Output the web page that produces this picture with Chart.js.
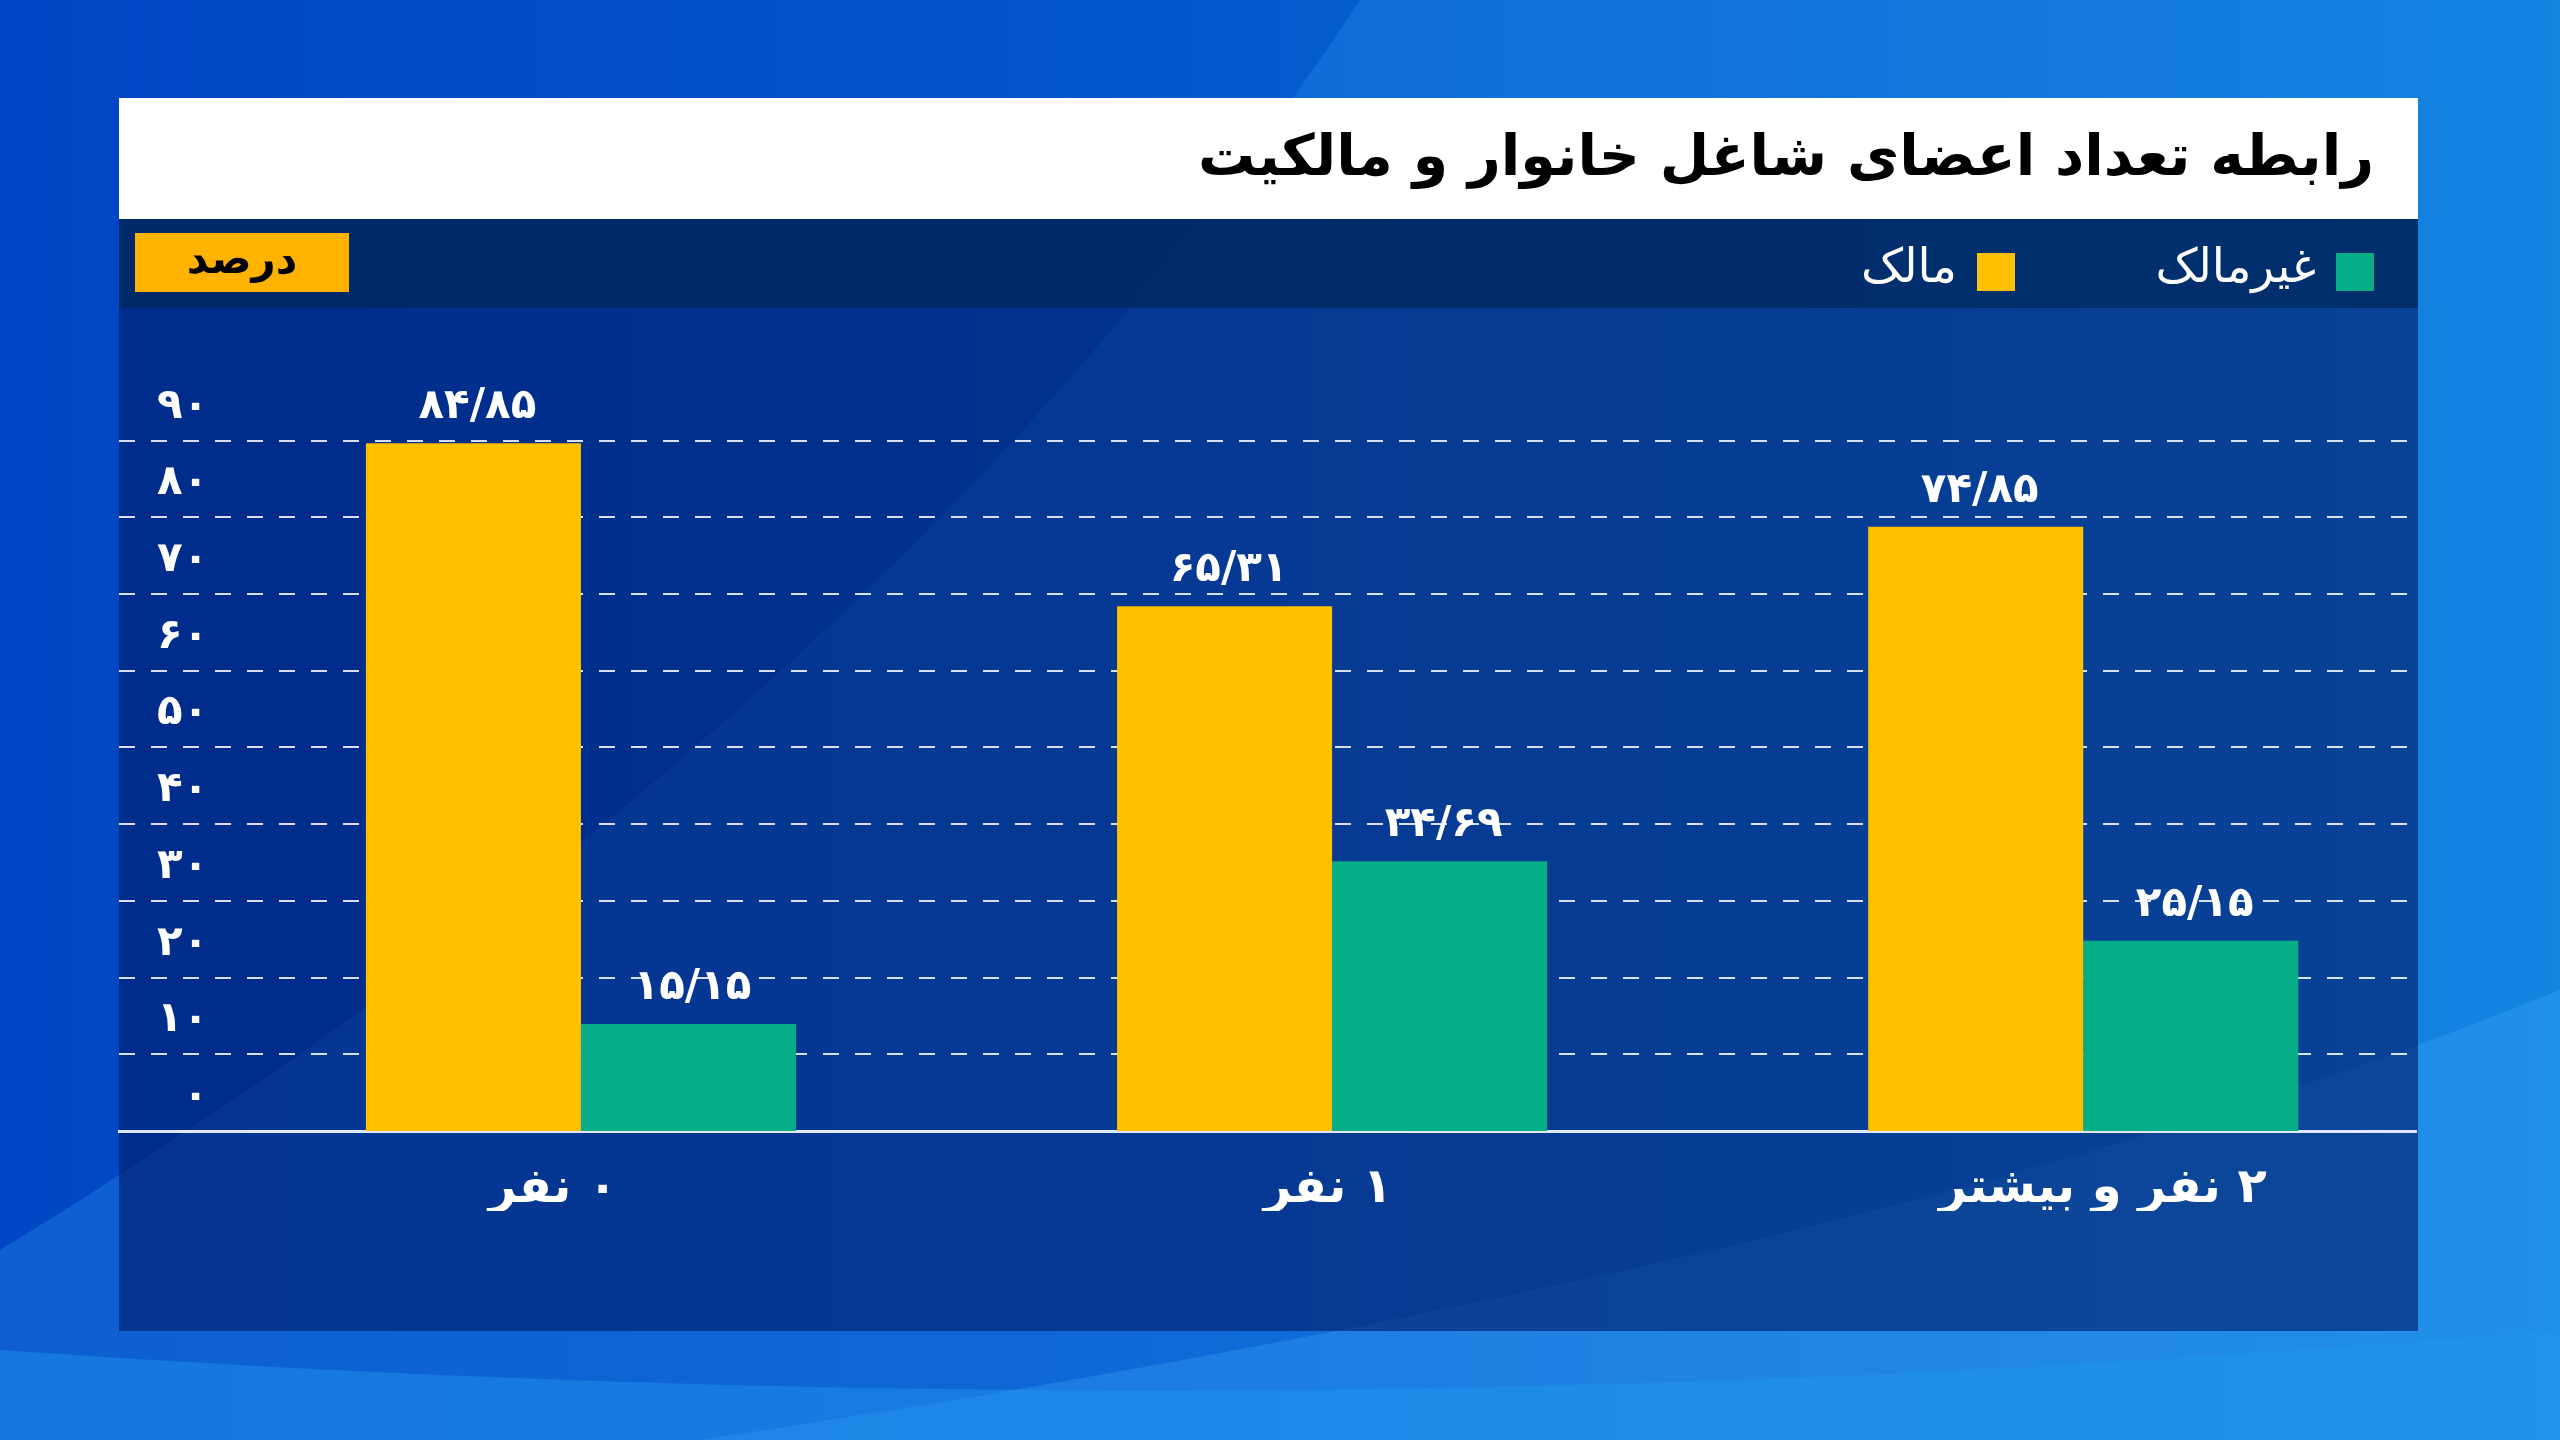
<!DOCTYPE html>
<html lang="fa">
<head>
<meta charset="utf-8">
<script src="https://cdn.jsdelivr.net/npm/chart.js@4.4.1/dist/chart.umd.min.js"></script>
<style>
  html, body { margin: 0; padding: 0; background: #0050c8; }
  #wrap { width: 2560px; height: 1440px; position: relative; }
</style>
</head>
<body>
<div id="wrap"><canvas id="chart" dir="rtl"></canvas></div>
<script>
// ── Data ──────────────────────────────────────────────
const categories     = ['۰ نفر', '۱ نفر', '۲ نفر و بیشتر'];
const seriesNames    = ['مالک', 'غیرمالک'];
const ownerValues    = [84.85, 65.31, 74.85];
const nonOwnerValues = [15.15, 34.69, 25.15];
const yTickValues    = [0, 10, 20, 30, 40, 50, 60, 70, 80, 90];
const titleText      = 'رابطه تعداد اعضای شاغل خانوار و مالکیت';
const unitText       = 'درصد';

const YELLOW = '#FFC000';
const GREEN  = '#07AD86';
const FONT   = '"DejaVu Sans", sans-serif';

const faDigits = '۰۱۲۳۴۵۶۷۸۹';
const toFa     = (s) => String(s).replace(/\d/g, d => faDigits[d]);
const fmtValue = (v) => toFa(v.toFixed(2).replace('.', '/'));

// ── Backdrop, title strip, legend band ────────────────
function drawBackdrop(ctx, w, h) {
    const g = ctx.createLinearGradient(0, 0, w, 0);
    g.addColorStop(0, '#0046c4');
    g.addColorStop(0.45, '#0356cc');
    g.addColorStop(1, '#0a80dc');
    ctx.fillStyle = g;
    ctx.fillRect(0, 0, w, h);

    // diagonal sheen
    ctx.fillStyle = 'rgba(40,140,235,0.35)';
    ctx.beginPath();
    ctx.moveTo(1360, 0);
    ctx.quadraticCurveTo(900, 700, 0, 1250);
    ctx.lineTo(0, h); ctx.lineTo(w, h); ctx.lineTo(w, 0);
    ctx.closePath();
    ctx.fill();

    // lower right swell
    ctx.fillStyle = 'rgba(70,175,250,0.28)';
    ctx.beginPath();
    ctx.moveTo(700, h);
    ctx.quadraticCurveTo(1900, 1260, w, 990);
    ctx.lineTo(w, h);
    ctx.closePath();
    ctx.fill();

    // bottom curve
    ctx.fillStyle = 'rgba(30,150,240,0.45)';
    ctx.beginPath();
    ctx.moveTo(0, 1350);
    ctx.quadraticCurveTo(1280, 1440, w, 1330);
    ctx.lineTo(w, h); ctx.lineTo(0, h);
    ctx.closePath();
    ctx.fill();
}

const frame = {
    id: 'frame',
    beforeDraw(chart) {
        const ctx = chart.ctx;
        const w = chart.width, h = chart.height;
        ctx.save();
        drawBackdrop(ctx, w, h);

        // panel body
        ctx.fillStyle = 'rgba(0,28,105,0.62)';
        ctx.fillRect(119, 308, 2299, 1023);
        // legend band
        ctx.fillStyle = 'rgba(0,38,95,0.9)';
        ctx.fillRect(119, 219, 2299, 89);
        // title strip
        ctx.fillStyle = '#ffffff';
        ctx.fillRect(119, 98, 2299, 121);

        ctx.direction = 'rtl';
        ctx.textBaseline = 'middle';

        ctx.fillStyle = '#000000';
        ctx.font = 'bold 57px ' + FONT;
        ctx.textAlign = 'right';
        ctx.fillText(titleText, 2374, 160);

        // unit tag
        ctx.fillStyle = '#FFB300';
        ctx.fillRect(135, 233, 214, 59);
        ctx.fillStyle = '#000000';
        ctx.font = 'bold 42px ' + FONT;
        ctx.textAlign = 'center';
        ctx.fillText(unitText, 242, 262);

        // legend (right to left)
        const anchors = [2015, 2374];
        ctx.font = '47px ' + FONT;
        ctx.textAlign = 'right';
        chart.data.datasets.forEach((ds, i) => {
            const x = anchors[i];
            ctx.fillStyle = ds.backgroundColor;
            ctx.fillRect(x - 38, 253, 38, 38);
            ctx.fillStyle = '#ffffff';
            ctx.fillText(ds.label, x - 58, 270);
        });
        ctx.restore();
    }
};

// ── Value labels above bars ───────────────────────────
const valueLabels = {
    id: 'valueLabels',
    afterDatasetsDraw(chart) {
        const ctx = chart.ctx;
        ctx.save();
        ctx.font = 'bold 42px ' + FONT;
        ctx.fillStyle = '#ffffff';
        ctx.textAlign = 'center';
        ctx.textBaseline = 'middle';
        chart.data.datasets.forEach((ds, di) => {
            chart.getDatasetMeta(di).data.forEach((bar, i) => {
                ctx.fillText(fmtValue(ds.data[i].y), bar.x + 4, bar.y - 36);
            });
        });
        ctx.restore();
    }
};

const toPoints = (arr) => arr.map((v, i) => ({ x: i, y: v }));
const categoryTicks = (axis) => { axis.ticks = categories.map((_, i) => ({ value: i })); };

new Chart(document.getElementById('chart'), {
    type: 'bar',
    data: {
        datasets: [
            { label: seriesNames[0], data: toPoints(ownerValues),    backgroundColor: YELLOW, xAxisID: 'x', yAxisID: 'y' },
            { label: seriesNames[1], data: toPoints(nonOwnerValues), backgroundColor: GREEN,  xAxisID: 'x', yAxisID: 'y' }
        ]
    },
    options: {
        responsive: true,
        maintainAspectRatio: false,
        devicePixelRatio: 1,
        animation: false,
        layout: { padding: { left: 119, right: 144, top: 331, bottom: 229 } },
        datasets: { bar: { categoryPercentage: 0.5726, barPercentage: 1, borderWidth: 0 } },
        plugins: { legend: { display: false }, tooltip: { enabled: false } },
        scales: {
            // bar placement
            x: {
                type: 'linear', min: -0.615, max: 2.443, offset: false, display: false,
                grid: { offset: false },
                afterBuildTicks: categoryTicks
            },
            y: { type: 'linear', min: 2.3, max: 98.34, display: false },
            // category labels + base line
            xl: {
                type: 'linear', position: 'bottom', min: -0.56, max: 2.404, offset: false,
                afterBuildTicks: categoryTicks,
                afterFit: (axis) => { axis.height = 80; },
                grid: { display: false, drawTicks: false, offset: false },
                border: { display: true, color: '#dfe8ff', width: 3 },
                ticks: {
                    autoSkip: false, maxRotation: 0, padding: 30,
                    color: '#ffffff', font: { family: FONT, size: 48, weight: 'bold' },
                    callback: (v) => categories[v]
                }
            },
            // percent grid
            yg: {
                type: 'linear', position: 'left', min: 0, max: 104.3,
                afterBuildTicks: (axis) => { axis.ticks = yTickValues.map(v => ({ value: v })); },
                afterFit: (axis) => { axis.width = 0; },
                grid: {
                    drawTicks: false, lineWidth: 2,
                    color: (c) => c.tick && c.tick.value === 0 ? 'rgba(0,0,0,0)' : 'rgba(255,255,255,0.85)'
                },
                border: { display: false, dash: [16, 16] },
                ticks: {
                    mirror: true, crossAlign: 'far', padding: 38, labelOffset: -34,
                    color: '#ffffff', font: { family: FONT, size: 42, weight: 'bold' },
                    callback: (v) => toFa(v)
                }
            }
        }
    },
    plugins: [frame, valueLabels]
});
</script>
</body>
</html>
